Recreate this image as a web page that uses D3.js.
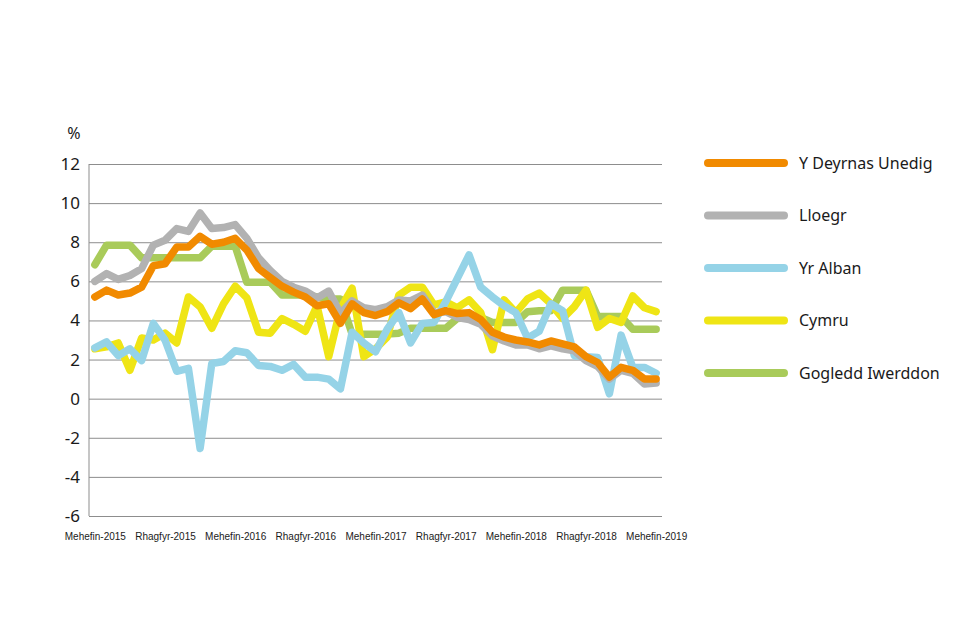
<!DOCTYPE html>
<html>
<head>
<meta charset="utf-8">
<script src="https://cdn.jsdelivr.net/npm/d3@7"></script>
<style>
  body { margin: 0; background: #fff; }
  svg { display: block; }
</style>
</head>
<body>
<script>
// months, Jun 2015 .. Jun 2019
var categories = [
  "Mehefin-2015","Gorffennaf-2015","Awst-2015","Medi-2015","Hydref-2015","Tachwedd-2015","Rhagfyr-2015",
  "Ionawr-2016","Chwefror-2016","Mawrth-2016","Ebrill-2016","Mai-2016","Mehefin-2016",
  "Gorffennaf-2016","Awst-2016","Medi-2016","Hydref-2016","Tachwedd-2016","Rhagfyr-2016",
  "Ionawr-2017","Chwefror-2017","Mawrth-2017","Ebrill-2017","Mai-2017","Mehefin-2017",
  "Gorffennaf-2017","Awst-2017","Medi-2017","Hydref-2017","Tachwedd-2017","Rhagfyr-2017",
  "Ionawr-2018","Chwefror-2018","Mawrth-2018","Ebrill-2018","Mai-2018","Mehefin-2018",
  "Gorffennaf-2018","Awst-2018","Medi-2018","Hydref-2018","Tachwedd-2018","Rhagfyr-2018",
  "Ionawr-2019","Chwefror-2019","Mawrth-2019","Ebrill-2019","Mai-2019","Mehefin-2019"
];
var tickLabels = ["Mehefin-2015","Rhagfyr-2015","Mehefin-2016","Rhagfyr-2016","Mehefin-2017",
  "Rhagfyr-2017","Mehefin-2018","Rhagfyr-2018","Mehefin-2019"];
var yTicks = [-6, -4, -2, 0, 2, 4, 6, 8, 10, 12];

var seriesNames = ["Y Deyrnas Unedig", "Lloegr", "Yr Alban", "Cymru", "Gogledd Iwerddon"];

var ukValues = [5.2,5.55,5.3,5.4,5.7,6.8,6.9,7.75,7.75,8.3,7.9,8.0,8.2,7.6,6.65,6.2,5.75,5.45,5.2,4.75,
  4.85,3.85,4.85,4.4,4.25,4.45,4.9,4.6,5.1,4.3,4.5,4.35,4.4,4.05,3.4,3.15,3.0,2.9,2.75,2.95,
  2.8,2.65,2.15,1.85,1.1,1.6,1.45,1.0,1.0];
var englandValues = [6.0,6.4,6.1,6.3,6.65,7.85,8.1,8.7,8.55,9.5,8.7,8.75,8.9,8.2,7.2,6.55,6.0,5.7,5.5,5.15,
  5.5,4.35,5.0,4.65,4.55,4.7,5.05,5.0,5.3,4.4,4.45,4.15,4.05,3.8,3.2,2.95,2.75,2.75,2.55,2.7,
  2.55,2.45,1.95,1.65,1.0,1.45,1.3,0.75,0.8];
var scotlandValues = [2.6,2.9,2.2,2.55,1.95,3.85,3.0,1.4,1.55,-2.55,1.8,1.9,2.45,2.35,1.7,1.65,1.45,1.75,1.1,1.1,
  1.0,0.5,3.4,2.85,2.4,3.55,4.4,2.85,3.85,3.9,4.95,6.15,7.35,5.7,5.2,4.75,4.4,3.1,3.45,4.85,
  4.5,2.2,2.15,2.1,0.25,3.25,1.6,1.6,1.3];
var walesValues = [2.55,2.65,2.85,1.45,3.1,3.0,3.35,2.85,5.2,4.7,3.6,4.85,5.75,5.15,3.4,3.35,4.1,3.8,3.45,4.75,
  2.15,4.6,5.65,2.15,2.55,3.15,5.3,5.7,5.7,4.8,4.95,4.65,5.05,4.4,2.5,5.05,4.4,5.1,5.4,4.85,
  4.1,4.7,5.55,3.65,4.1,3.9,5.25,4.65,4.45];
var niValues = [6.85,7.85,7.85,7.85,7.2,7.2,7.2,7.2,7.2,7.2,7.8,7.8,7.8,5.95,5.95,5.95,5.3,5.3,5.3,5.2,
  5.1,5.1,3.3,3.3,3.3,3.3,3.35,3.6,3.6,3.6,3.6,4.1,4.15,4.15,3.9,3.9,3.9,4.45,4.5,4.5,
  5.55,5.55,5.55,4.2,4.2,4.2,3.55,3.55,3.55];

var colors = ["#f18a00", "#b2b2b2", "#95d3e7", "#efe515", "#a9cb5a"];
var allValues = [ukValues, englandValues, scotlandValues, walesValues, niValues];

var width = 960, height = 640;
var plotLeft = 89, plotRight = 662, plotTop = 164, plotBottom = 516;

var svg = d3.select("body").append("svg")
    .attr("width", width)
    .attr("height", height);

var x = d3.scalePoint()
    .domain(categories)
    .range([plotLeft, plotRight])
    .padding(0.5);
var y = d3.scaleLinear()
    .domain([-6, 12])
    .range([plotBottom, plotTop]);

// y axis + gridlines
var yAxis = svg.append("g")
    .attr("transform", "translate(" + plotLeft + ",0)")
    .call(d3.axisLeft(y).tickValues(yTicks).tickSize(-(plotRight - plotLeft)).tickPadding(9)
      .tickFormat(function(d) { return String(d); }));
yAxis.select(".domain").remove();
yAxis.selectAll(".tick line").attr("stroke", "#8d8d8d").attr("stroke-width", 1);
yAxis.selectAll(".tick text")
    .attr("fill", "#1a1a1a")
    .style("font-family", "'Noto Sans', sans-serif")
    .style("font-size", "17px");

svg.append("line")
    .attr("x1", plotLeft).attr("x2", plotLeft)
    .attr("y1", plotTop).attr("y2", plotBottom)
    .attr("stroke", "#8d8d8d");

svg.append("text")
    .attr("x", 74).attr("y", 139)
    .attr("text-anchor", "middle")
    .attr("fill", "#1a1a1a")
    .style("font-family", "'Noto Sans', sans-serif")
    .style("font-size", "16px")
    .text("%");

// x axis
var xAxis = svg.append("g")
    .attr("transform", "translate(0," + plotBottom + ")")
    .call(d3.axisBottom(x).tickValues(tickLabels).tickSize(0).tickPadding(17));
xAxis.select(".domain").remove();
xAxis.selectAll(".tick text")
    .attr("fill", "#1a1a1a")
    .style("font-family", "'Liberation Sans', Arial, sans-serif")
    .style("font-size", "10px");

// lines, drawn bottom to top
var line = d3.line()
    .x(function(d, i) { return x(categories[i]); })
    .y(function(d) { return y(d); });

var drawOrder = [4, 3, 2, 1, 0];
drawOrder.forEach(function(k) {
  svg.append("path")
    .datum(allValues[k])
    .attr("fill", "none")
    .attr("stroke", colors[k])
    .attr("stroke-width", 7.5)
    .attr("stroke-linejoin", "round")
    .attr("stroke-linecap", "round")
    .attr("d", line);
});

// legend
var legend = svg.append("g");
seriesNames.forEach(function(name, i) {
  var ly = 163 + i * 52.5;
  legend.append("line")
    .attr("x1", 708).attr("x2", 784)
    .attr("y1", ly).attr("y2", ly)
    .attr("stroke", colors[i])
    .attr("stroke-width", 8)
    .attr("stroke-linecap", "round");
  legend.append("text")
    .attr("x", 799).attr("y", ly)
    .attr("dy", "0.35em")
    .attr("fill", "#1a1a1a")
    .style("font-family", "'Noto Sans', sans-serif")
    .style("font-size", "16px")
    .text(name);
});
</script>
</body>
</html>
